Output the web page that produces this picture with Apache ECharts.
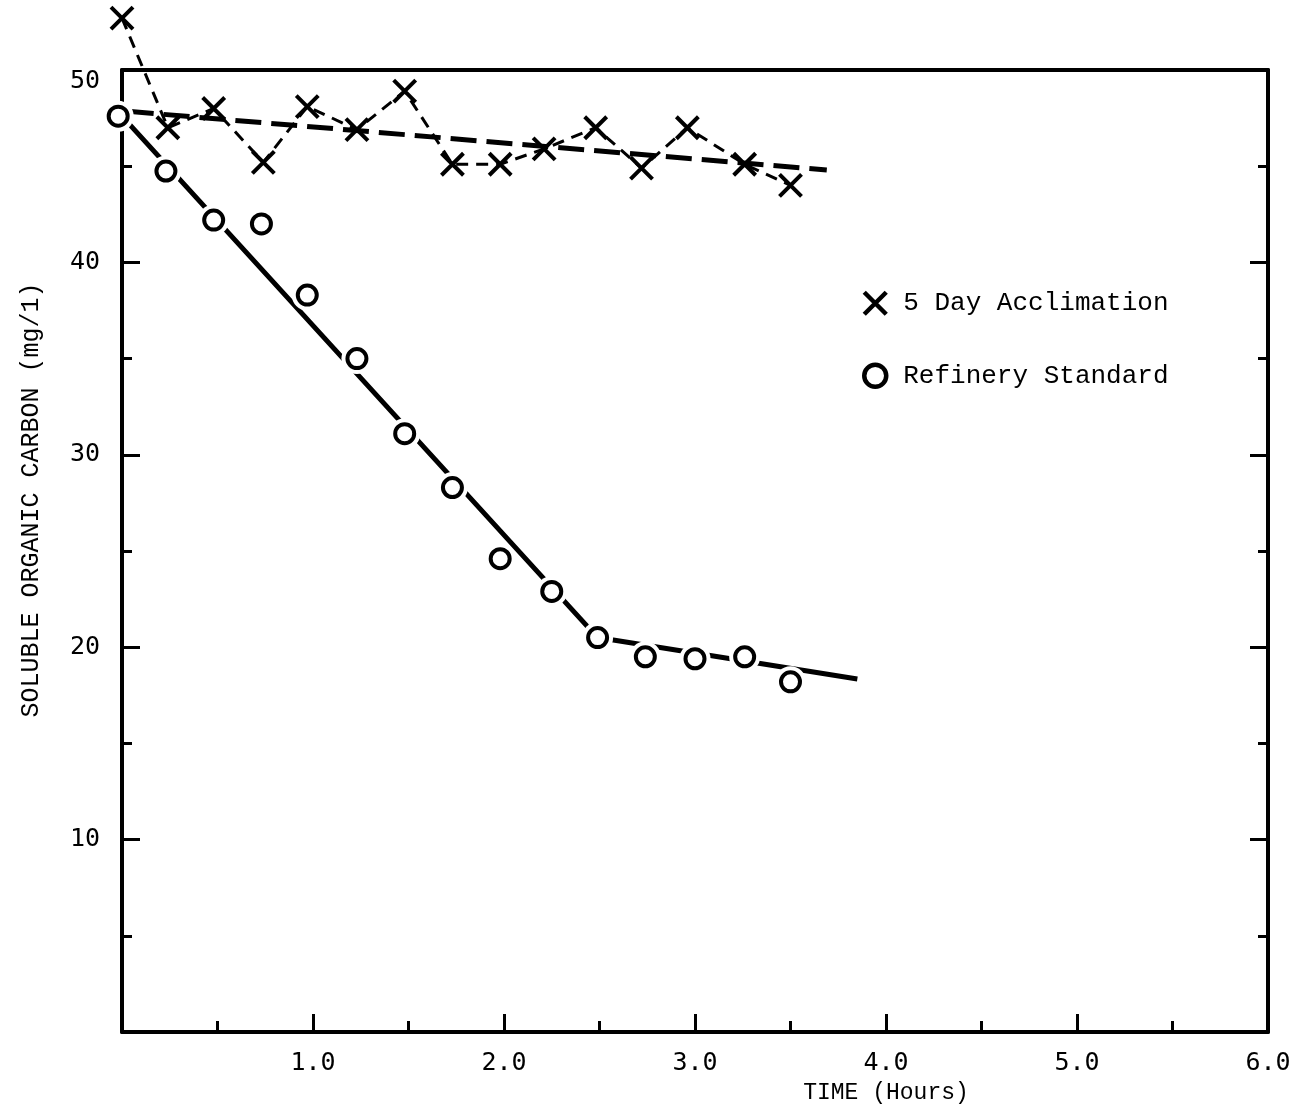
<!DOCTYPE html>
<html>
<head>
<meta charset="utf-8">
<script src="https://cdn.jsdelivr.net/npm/echarts@6/dist/echarts.min.js"></script>
<style>
html,body{margin:0;padding:0;background:#fff;}
#chart{width:1298px;height:1111px;}
</style>
</head>
<body>
<div id="chart"></div>
<script>
// ---- data ----
var acclimTime  = [0, 0.24, 0.48, 0.74, 0.97, 1.23, 1.48, 1.73, 1.98, 2.21, 2.48, 2.72, 2.96, 3.26, 3.5];
var acclimSOC   = [52.7, 47.0, 48.0, 45.2, 48.1, 46.9, 48.9, 45.1, 45.1, 45.9, 47.0, 44.9, 47.0, 45.1, 44.0];
var refTime     = [-0.02, 0.23, 0.48, 0.73, 0.97, 1.23, 1.48, 1.73, 1.98, 2.25, 2.49, 2.74, 3.0, 3.26, 3.5];
var refSOC      = [47.6, 44.75, 42.2, 42.0, 38.3, 35.0, 31.1, 28.3, 24.6, 22.9, 20.5, 19.5, 19.4, 19.5, 18.2];
var acclimFitTime = [0.03, 3.69];
var acclimFitSOC  = [47.85, 44.8];
var refFitTime  = [0.0, 2.49, 3.85];
var refFitSOC   = [47.6, 20.5, 18.35];
var xTicks = [1.0, 2.0, 3.0, 4.0, 5.0, 6.0];
var yTicks = [10, 20, 30, 40, 50];
var seriesNames = ['5 Day Acclimation', 'Refinery Standard'];

function pairs(xs, ys){ return xs.map(function(x,i){ return [x, ys[i]]; }); }

var XPATH = 'path://M0,0L10,10M10,0L0,10';
var monoSans = '"DejaVu Sans Mono", monospace';
var typewriter = '"Liberation Mono", "Courier New", monospace';

var chart = echarts.init(document.getElementById('chart'), null, {renderer:'canvas'});
var axisLine = {show:true, onZero:false, lineStyle:{color:'#000', width:4}};
chart.setOption({
  backgroundColor:'#fff',
  animation:false,
  grid:{left:122, right:30, top:70, bottom:79, containLabel:false},
  xAxis:[{
    type:'value', min:0, max:6, interval:1, position:'bottom',
    axisLine:axisLine,
    axisTick:{show:true, inside:true, length:18, lineStyle:{color:'#000', width:3}},
    minorTick:{show:true, splitNumber:2, length:11, lineStyle:{color:'#000', width:3}},
    splitLine:{show:false},
    axisLabel:{margin:19, color:'#000', fontFamily:monoSans, fontSize:25,
      formatter:function(v){ return xTicks.indexOf(v) >= 0 ? v.toFixed(1) : ''; }}
  },{
    type:'value', min:0, max:6, position:'top',
    axisLine:axisLine, axisTick:{show:false}, axisLabel:{show:false}, splitLine:{show:false}
  }],
  yAxis:[{
    type:'value', min:0, max:50, interval:10, position:'left',
    axisLine:axisLine,
    axisTick:{show:true, inside:true, length:18, lineStyle:{color:'#000', width:3}},
    minorTick:{show:true, splitNumber:2, length:10, lineStyle:{color:'#000', width:3}},
    splitLine:{show:false},
    axisLabel:{margin:22, color:'#000', fontFamily:monoSans, fontSize:25,
      rich:{t:{fontFamily:monoSans, fontSize:25, color:'#000', padding:[22,0,0,0]}},
      formatter:function(v){
        if (yTicks.indexOf(v) < 0) return '';
        return v === 50 ? '{t|' + v + '}' : String(v);
      }}
  },{
    type:'value', min:0, max:50, interval:10, position:'right',
    axisLine:axisLine,
    axisTick:{show:true, inside:true, length:18, lineStyle:{color:'#000', width:3}},
    minorTick:{show:true, splitNumber:2, length:10, lineStyle:{color:'#000', width:3}},
    splitLine:{show:false}, axisLabel:{show:false}
  }],
  legend:{
    orient:'vertical', left:857, top:285, itemWidth:22, itemHeight:22, itemGap:46,
    textStyle:{color:'#000', fontFamily:typewriter, fontSize:26, padding:[0,0,0,12]},
    data:[
      {name:seriesNames[0], icon:XPATH, itemStyle:{color:'rgba(0,0,0,0)', borderColor:'#000', borderWidth:4.5, opacity:1}},
      {name:seriesNames[1], icon:'circle', itemStyle:{color:'#fff', borderColor:'#000', borderWidth:4.5, opacity:1}}
    ]
  },
  graphic:[
    {type:'text', x:31, y:500, rotation:Math.PI/2, style:{
      text:'SOLUBLE ORGANIC CARBON (mg/1)', fill:'#000', font:'25px ' + typewriter,
      textAlign:'center', textVerticalAlign:'middle'}},
    {type:'text', x:886, y:1093, style:{
      text:'TIME (Hours)', fill:'#000', font:'23px ' + typewriter,
      textAlign:'center', textVerticalAlign:'middle'}}
  ],
  series:[
    {type:'line', name:'refFit', data:pairs(refFitTime, refFitSOC), showSymbol:false, symbol:'none',
      lineStyle:{color:'#000', width:5, opacity:1}, z:2, silent:true},
    {type:'line', name:'acclimFit', data:pairs(acclimFitTime, acclimFitSOC), showSymbol:false, symbol:'none',
      lineStyle:{color:'#000', width:5, type:[26,10], opacity:1}, z:2, silent:true},
    {type:'line', name:'acclimLink', data:pairs(acclimTime, acclimSOC), showSymbol:false, symbol:'none', clip:false,
      lineStyle:{color:'#000', width:3, type:[12,8], opacity:1}, z:3, silent:true},
    {type:'scatter', name:'refHalo', data:pairs(refTime, refSOC), symbol:'circle', symbolSize:31, clip:false,
      itemStyle:{color:'#fff', borderWidth:0, opacity:1}, z:4, silent:true},
    {type:'scatter', name:seriesNames[1], data:pairs(refTime, refSOC), symbol:'circle', symbolSize:19, clip:false,
      itemStyle:{color:'#fff', borderColor:'#000', borderWidth:4, opacity:1}, z:5},
    {type:'scatter', name:seriesNames[0], data:pairs(acclimTime, acclimSOC), symbol:XPATH, symbolSize:22, clip:false,
      itemStyle:{color:'rgba(0,0,0,0)', borderColor:'#000', borderWidth:4, opacity:1}, z:6}
  ]
});
</script>
</body>
</html>
